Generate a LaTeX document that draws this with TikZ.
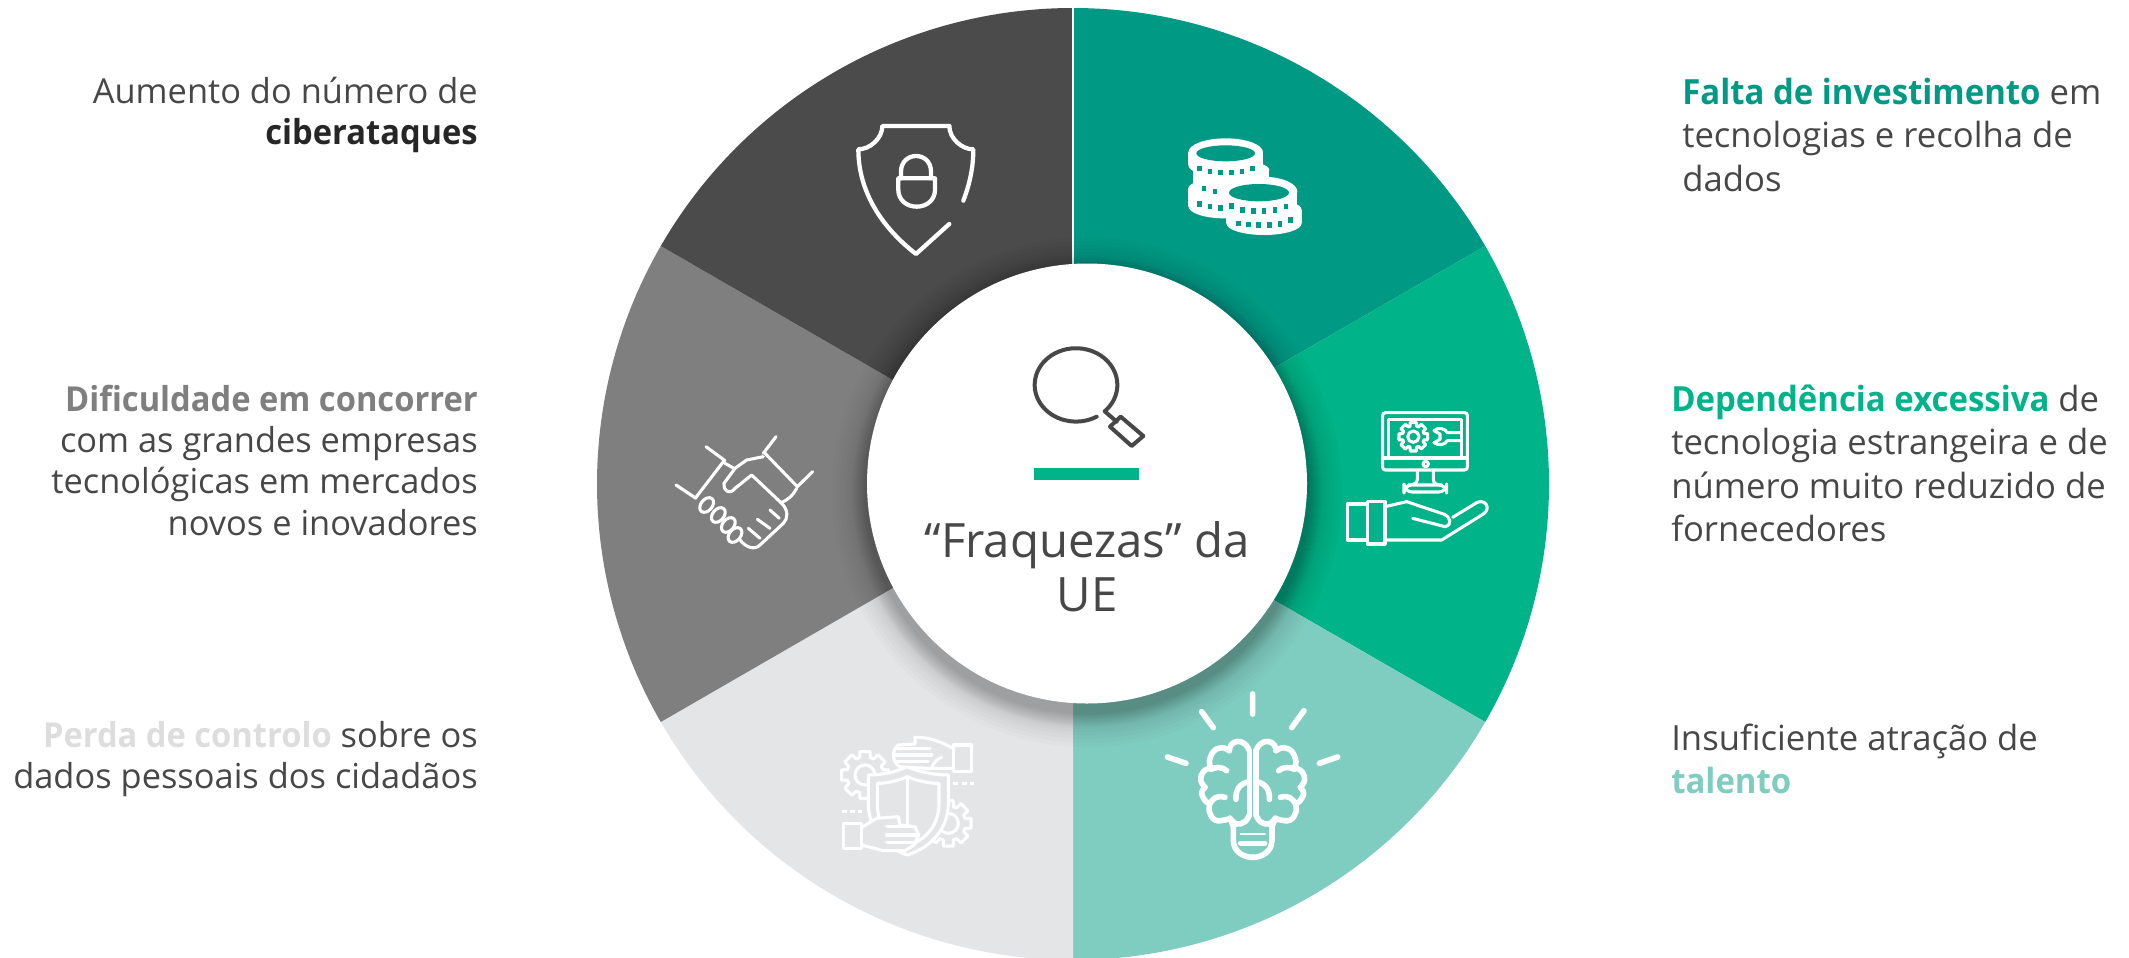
\documentclass[tikz,border=0pt]{standalone}
\usepackage{fontspec}
\setmainfont[BoldFeatures={FakeStretch=0.95}]{Open Sans}
\definecolor{cdark}{HTML}{4B4B4B}
\definecolor{cmid}{HTML}{7F7F7F}
\definecolor{clight}{HTML}{E4E5E7}
\definecolor{cpale}{HTML}{7FCDC0}
\definecolor{cgreen}{HTML}{00B388}
\definecolor{cteal}{HTML}{009A84}
\definecolor{ctext}{HTML}{474747}
\newcommand{\fst}{\rule{0pt}{24pt}}
\newcommand{\gearicon}[4]{%
  \foreach \a in {0,45,...,315}{
    \draw ([shift=(\a-12:#3)]#1,#2) -- ([shift=(\a+12:#3)]#1,#2) -- ([shift=(\a+17:#4)]#1,#2) -- ([shift=(\a+28:#4)]#1,#2) -- ([shift=(\a+33:#3)]#1,#2);
  }}
\tikzset{
  x=0.75pt,y=-0.75pt,
  lefttxt/.style={anchor=north east,inner sep=0pt,align=right,text=ctext,font=\fontsize{25.8pt}{31pt}\selectfont},
  righttxt/.style={anchor=north west,inner sep=0pt,align=left,text=ctext,font=\fontsize{26pt}{32.6pt}\selectfont},
  ic/.style={draw=white,line cap=round,line join=round},
}
\begin{document}
\begin{tikzpicture}
\useasboundingbox (0,0) rectangle (2129,957);
\clip (0,0) rectangle (2129,957);
% ring
\fill[cteal] (1073,484) -- ++(-90:476) arc[start angle=-90,end angle=-30,radius=476] -- cycle;
\fill[cgreen] (1073,484) -- ++(-30:476) arc[start angle=-30,end angle=30,radius=476] -- cycle;
\fill[cpale] (1073,484) -- ++(30:476) arc[start angle=30,end angle=90,radius=476] -- cycle;
\fill[clight] (1073,484) -- ++(90:476) arc[start angle=90,end angle=150,radius=476] -- cycle;
\fill[cmid] (1073,484) -- ++(150:476) arc[start angle=150,end angle=210,radius=476] -- cycle;
\fill[cdark] (1073,484) -- ++(210:476) arc[start angle=210,end angle=270,radius=476] -- cycle;
\draw[white,line width=0.8pt] (1073,8) -- (1073,270);
% shadow and centre
\foreach \r in {222,223,...,235,237,240,243,247,251,255}{\fill[black,opacity=0.014] (1087,492) circle[radius=\r];}
\fill[white] (1087,483.5) circle[radius=220];
% magnifier
\begin{scope}[shift={(1000,320)},scale=0.3333,draw=ctext,line width=3pt,line cap=round,line join=round]
\draw (290,290) arc[start angle=60,end angle=406,x radius=124,y radius=110] -- (350,305);
\draw (362,290) -- (430,348) -- (395,378) -- (330,320) -- cycle;
\end{scope}
\fill[cgreen] (1034.3,468.3) rectangle (1139.3,480.3);
\node[inner sep=0pt,anchor=north,align=center,text=ctext,font=\fontsize{35.5pt}{40.5pt}\selectfont] (centre) at (1087,517) {\rule{0pt}{30pt}“Fraquezas” da\\UE};
% shield lock icon
\begin{scope}[shift={(820,90)},scale=0.3333,ic,line width=3.2pt]
\draw (388,108) -- (187,108) .. controls (187,145) and (150,178) .. (115,178) .. controls (115,290) and (170,400) .. (288,492) -- (388,402);
\draw (430,332) .. controls (450,280) and (460,230) .. (460,178) .. controls (425,178) and (388,145) .. (388,108);
\draw (235,265) -- (345,265) -- (345,300) .. controls (345,330) and (320,350) .. (290,350) .. controls (260,350) and (235,330) .. (235,300) -- cycle;
\draw (243,265) -- (243,245) .. controls (243,215) and (265,198) .. (288,198) .. controls (312,198) and (333,215) .. (333,245) -- (333,265);
\end{scope}
% coins
\begin{scope}[shift={(1160,120)},scale=0.3333]
\fill[white] (197,97) ellipse[x radius=112,y radius=42];
\fill[white] (85,97) rectangle (309,135);
\fill[white] (197,135) ellipse[x radius=112,y radius=37];
\fill[white] (100,150) rectangle (328,190);
\fill[white] (214,150) ellipse[x radius=114,y radius=30];
\fill[white] (85,205) rectangle (299,258);
\fill[white] (192,205) ellipse[x radius=107,y radius=30];
\fill[white] (192,258) ellipse[x radius=107,y radius=37];
\fill[white] (307,215) ellipse[x radius=105,y radius=45];
\fill[white] (202,215) rectangle (412,262);
\fill[white] (307,262) ellipse[x radius=105,y radius=35];
\fill[white] (199,270) rectangle (425,310);
\fill[white] (312,270) ellipse[x radius=113,y radius=35];
\fill[white] (312,310) ellipse[x radius=113,y radius=35];
\fill[cteal] (197,100) ellipse[x radius=88,y radius=24];
\fill[cteal] (297,218) ellipse[x radius=90,y radius=26];
\foreach \px/\py in {118/145,150/155,182/158,214/158,246/155,278/145,132/205,165/215,118/252,150/260,182/264,215/258,247/270,280/273,312/273,345/270,378/260,235/310,265/314,296/315,328/315,360/312,392/300}{
  \fill[cteal] (\px-7,\py-8) rectangle (\px+7,\py+8);}
\end{scope}
% monitor and hand
\begin{scope}[shift={(1330,390)},scale=0.3333,ic,line width=2.3pt]
\draw[rounded corners=2pt] (158,68) rectangle (412,240);
\draw (175,204) -- (175,88) -- (395,88) -- (395,204);
\draw (160,204) -- (410,204);
\draw (287,222) circle[radius=8];
\draw (262,242) -- (262,268) .. controls (262,280) and (250,285) .. (235,285);
\draw (310,242) -- (310,268) .. controls (310,280) and (320,285) .. (335,285);
\draw[rounded corners=6pt] (222,306) -- (222,285) -- (350,285) -- (350,306) -- cycle;
\gearicon{250}{140}{44}{33}
\draw (250,140) circle[radius=17];
\draw (390,128) -- (352,128) .. controls (345,115) and (325,110) .. (312,122) -- (330,132) -- (330,148) -- (312,158) .. controls (325,168) and (345,165) .. (352,152) -- (390,152);
\draw (52,342) rectangle (112,450);
\draw (112,335) rectangle (165,462);
\draw (165,350) -- (230,335) -- (340,372) .. controls (362,380) and (368,405) .. (345,410) -- (248,385);
\draw (368,382) -- (440,338) .. controls (465,325) and (485,355) .. (460,372) -- (335,450) -- (165,450);
\end{scope}
% brain
\begin{scope}[shift={(1150,680)},scale=0.3333,ic,line width=4.2pt]
\draw (308,42) -- (308,102) (155,95) -- (190,143) (462,92) -- (425,143) (52,231) -- (108,250) (563,231) -- (508,250);
\foreach \sc/\sh in {1/0,-1/616}{
\begin{scope}[shift={(\sh,0)},xscale=\sc]
\draw plot[smooth,tension=.7] coordinates {(298,212) (285,192) (262,184) (243,195) (238,212)};
\draw plot[smooth,tension=.7] coordinates {(238,212) (215,203) (190,215) (178,245) (183,262)};
\draw plot[smooth,tension=.7] coordinates {(183,262) (160,275) (152,300) (165,322)};
\draw plot[smooth,tension=.7] coordinates {(165,322) (155,340) (168,365) (180,370)};
\draw plot[smooth,tension=.7] coordinates {(180,370) (178,395) (195,420) (225,420) (240,415)};
\draw plot[smooth,tension=.7] coordinates {(240,415) (260,432) (285,425) (298,405)};
\draw (298,212) -- (298,405);
\draw (230,272) .. controls (212,258) and (195,262) .. (183,268);
\draw (225,352) .. controls (200,345) and (190,355) .. (180,370);
\draw (258,358) .. controls (255,325) and (275,308) .. (298,305);
\draw (240,415) -- (250,440) -- (250,480) .. controls (250,515) and (280,532) .. (308,532);
\draw (272,490) -- (308,490);
\end{scope}}
\draw[line width=1.5pt] (272,462) -- (345,462);
\end{scope}
% gears shield hands
\begin{scope}[shift={(820,720)},scale=0.3333,ic,line width=2.3pt]
\gearicon{135}{165}{72}{55}
\draw (135,165) circle[radius=30];
\gearicon{385}{310}{70}{52}
\draw (385,310) circle[radius=30];
\filldraw[fill=clight] (145,165) .. controls (190,165) and (230,155) .. (262,140) .. controls (295,155) and (340,165) .. (385,165) -- (385,250) .. controls (385,320) and (340,380) .. (262,405) .. controls (185,380) and (145,320) .. (145,250) -- cycle;
\draw (172,190) .. controls (205,190) and (240,180) .. (262,170) .. controls (285,180) and (320,190) .. (357,190) -- (357,250) .. controls (357,310) and (325,355) .. (262,380) .. controls (200,355) and (172,310) .. (172,250) -- cycle;
\draw (262,170) -- (262,320);
\filldraw[fill=clight] (400,85) .. controls (370,70) and (330,50) .. (285,52) -- (285,72) -- (235,75) .. controls (215,85) and (215,130) .. (240,140) -- (320,145) -- (400,145);
\draw (225,85) -- (330,85) (222,105) -- (335,105) (228,125) -- (325,125);
\draw (335,145) .. controls (338,130) and (350,118) .. (365,112);
\draw (400,75) rectangle (455,155);
\filldraw[fill=clight] (125,322) -- (170,295) -- (235,290) -- (240,315) -- (285,320) -- (296,345) -- (282,375) -- (255,392) -- (190,392) -- (125,375);
\draw (200,320) -- (285,320) (200,345) -- (296,345) (200,368) -- (282,368);
\draw (70,310) rectangle (125,385);
\draw[line cap=butt,dash pattern=on 3.75pt off 2.5pt] (400,190) -- (462,190);
\draw[line cap=butt,dash pattern=on 3.75pt off 2.5pt] (65,275) -- (127,275);
\end{scope}
% handshake
\begin{scope}[shift={(660,420)},scale=0.3333,ic,line width=2.3pt]
\draw (48,195) -- (108,235) (138,80) -- (195,122) (108,232) -- (190,125);
\draw (348,50) -- (310,100) (458,155) -- (412,200) (315,100) -- (412,200);
\draw (195,130) -- (222,145);
\draw (310,110) -- (260,120) -- (225,145) -- (192,190) .. controls (190,215) and (210,225) .. (225,205) -- (275,165) -- (365,250) .. controls (385,270) and (385,295) .. (370,310) -- (300,375) .. controls (285,390) and (260,385) .. (240,360);
\draw (410,205) .. controls (400,225) and (385,240) .. (362,248);
\foreach \kx/\ky in {140/255,175/285,205/315,225/345}{\draw (\kx,\ky) ellipse[x radius=25,y radius=17,rotate=50];}
\draw (330,270) -- (358,295) (292,298) -- (330,325) (265,325) -- (300,355);
\end{scope}
% texts
\node[lefttxt] (t1) at (478,71) {\fst Aumento do número de\\\textbf{\textcolor[HTML]{262626}{ciberataques}}};
\node[lefttxt] (t2) at (478,379) {\fst\textbf{\textcolor{cmid}{Dificuldade em concorrer}}\\com as grandes empresas\\tecnológicas em mercados\\novos e inovadores};
\node[lefttxt] (t3) at (478,715) {\fst\textbf{\textcolor[HTML]{DDDDDD}{Perda de controlo}} sobre os\\dados pessoais dos cidadãos};
\node[righttxt] (t4) at (1682,72) {\fst\textbf{\textcolor{cteal}{Falta de investimento}} em\\tecnologias e recolha de\\dados};
\node[righttxt] (t5) at (1671,379) {\fst\textbf{\textcolor{cgreen}{Dependência excessiva}} de\\tecnologia estrangeira e de\\número muito reduzido de\\fornecedores};
\node[righttxt] (t6) at (1671,718) {\fst Insuficiente atração de\\\textbf{\textcolor{cpale}{talento}}};
\end{tikzpicture}
\end{document}
